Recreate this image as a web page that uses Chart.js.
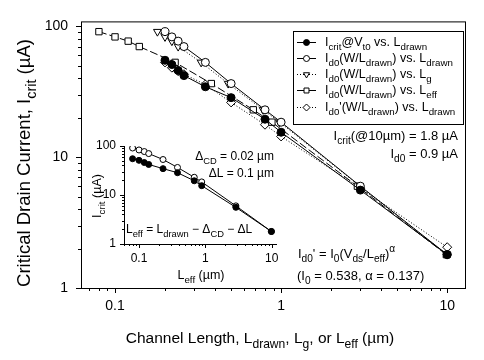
<!DOCTYPE html>
<html>
<head>
<meta charset="utf-8">
<script src="https://cdn.jsdelivr.net/npm/chart.js@4.4.1/dist/chart.umd.min.js"></script>
<style>
  body { margin: 0; background: #fff; }
  #wrap { position: relative; width: 484px; height: 360px; }
  canvas { position: absolute; left: 0; top: 0; }
</style>
</head>
<body>
<div id="wrap">
  <canvas id="main" width="484" height="360"></canvas>
  <canvas id="inset" width="484" height="360"></canvas>
</div>
<script>
// channel lengths (um)
const lDrawn = [0.2, 0.22, 0.24, 0.26, 0.35, 0.5, 0.8, 1.0, 3.0, 10];
const lG = [0.18, 0.20, 0.22, 0.24, 0.33, 0.48, 0.78, 0.98, 2.98, 9.98];
const lEff = [0.08, 0.10, 0.12, 0.14, 0.23, 0.38, 0.68, 0.88, 2.88, 9.88];

// currents (uA)
const iCrit = [55, 51, 46, 42, 34.5, 28.5, 19.5, 15.5, 5.6, 1.8];
const iD0W = [91, 83, 77, 70, 53, 36.5, 23, 18.5, 6.0, 1.8];
const iD0pW = [53, 48.3, 45.4, 43, 35.9, 26.2, 17.7, 14.4, 5.8, 2.05];

// ticks
const xTicks = [0.1, 1, 10];
const xTickLabels = ["0.1", "1", "10"];
const yTicks = [1, 10, 100];
const yTickLabels = ["1", "10", "100"];

const FONT = "'Liberation Sans', Arial, sans-serif";
Chart.defaults.font.family = FONT;
Chart.defaults.color = "#000";

const pts = (xs, ys) => xs.map((x, i) => ({ x: x, y: ys[i] }));

// texto con subindices: partes [texto, 'n' | 'b' (sub) | 'p' (sup)]
function richText(ctx, parts, x, y, size, align) {
  const small = size * 0.78;
  let w = 0;
  parts.forEach(([t, m]) => {
    ctx.font = (m === "n" ? size : small) + "px " + FONT;
    w += ctx.measureText(t).width;
  });
  let cx = align === "right" ? x - w : align === "center" ? x - w / 2 : x;
  ctx.textAlign = "left";
  ctx.textBaseline = "alphabetic";
  ctx.fillStyle = "#000";
  parts.forEach(([t, m]) => {
    ctx.font = (m === "n" ? size : small) + "px " + FONT;
    const dy = m === "b" ? size * 0.32 : m === "p" ? -size * 0.45 : 0;
    ctx.fillText(t, cx, y + dy);
    cx += ctx.measureText(t).width;
  });
}

function drawMinorTicks(ctx, scale, horizontal, major, minor) {
  ctx.strokeStyle = "#000";
  ctx.lineWidth = 1;
  ctx.beginPath();
  for (let k = -2; k <= 2; k++) {
    for (let m = 1; m <= 9; m++) {
      const v = m * Math.pow(10, k);
      if (v < scale.min || v > scale.max) continue;
      const p = Math.round(scale.getPixelForValue(v)) + 0.5;
      const len = m === 1 ? major : minor;
      if (horizontal) {
        ctx.moveTo(p, scale.top);
        ctx.lineTo(p, scale.top + len);
      } else {
        ctx.moveTo(scale.right, p);
        ctx.lineTo(scale.right - len, p);
      }
    }
  }
  ctx.stroke();
}

const mainSets = [
  { label: "Icrit@Vt0 vs. Ldrawn", data: pts(lDrawn, iCrit), pointStyle: "circle", pointRadius: 4,
    backgroundColor: "#000", borderDash: [] },
  { label: "Id0(W/Ldrawn) vs. Ldrawn", data: pts(lDrawn, iD0W), pointStyle: "circle", pointRadius: 4,
    backgroundColor: "#fff", borderDash: [] },
  { label: "Id0(W/Ldrawn) vs. Lg", data: pts(lG, iD0W), pointStyle: "triangle", pointRotation: 180, pointRadius: 4.5,
    backgroundColor: "#fff", borderDash: [1, 2] },
  { label: "Id0(W/Ldrawn) vs. Leff", data: pts(lEff, iD0W), pointStyle: "rect", pointRadius: 4.5,
    backgroundColor: "#fff", borderDash: [8, 3] },
  { label: "Id0'(W/Ldrawn) vs. Ldrawn", data: pts(lDrawn, iD0pW), pointStyle: "rectRot", pointRadius: 4.5,
    backgroundColor: "#fff", borderDash: [1, 2] },
].map((d) => Object.assign({
  showLine: true, borderColor: "#000", borderWidth: 1, pointBorderColor: "#000",
  pointBackgroundColor: d.backgroundColor, pointBorderWidth: 1,
}, d));

const legendLabels = [
  [["I", "n"], ["crit", "b"], ["@V", "n"], ["t0", "b"], [" vs. L", "n"], ["drawn", "b"]],
  [["I", "n"], ["d0", "b"], ["(W/L", "n"], ["drawn", "b"], [") vs. L", "n"], ["drawn", "b"]],
  [["I", "n"], ["d0", "b"], ["(W/L", "n"], ["drawn", "b"], [") vs. L", "n"], ["g", "b"]],
  [["I", "n"], ["d0", "b"], ["(W/L", "n"], ["drawn", "b"], [") vs. L", "n"], ["eff", "b"]],
  [["I", "n"], ["d0", "b"], ["'(W/L", "n"], ["drawn", "b"], [") vs. L", "n"], ["drawn", "b"]],
];

const mainDeco = {
  id: "mainDeco",
  afterDraw(chart) {
    const ctx = chart.ctx;
    const a = chart.chartArea;
    ctx.save();
    ctx.strokeStyle = "#000";
    ctx.lineWidth = 1;
    ctx.strokeRect(a.left + 0.5, a.top + 0.5, a.right - a.left, a.bottom - a.top);
    drawMinorTicks(ctx, chart.scales.x, true, 5, 3);
    drawMinorTicks(ctx, chart.scales.y, false, 5, 3);

    // titulos de ejes
    richText(ctx, [["Channel Length, L", "n"], ["drawn", "b"], [", L", "n"], ["g", "b"], [", or L", "n"], ["eff", "b"], [" (\u00b5m)", "n"]],
      260, 343, 15.5, "center");
    ctx.save();
    ctx.translate(30, 163);
    ctx.rotate(-Math.PI / 2);
    richText(ctx, [["Critical Drain Current, I", "n"], ["crit", "b"], [" (\u00b5A)", "n"]], 0, 0, 18.5, "center");
    ctx.restore();

    // anotaciones
    richText(ctx, [["I", "n"], ["crit", "b"], ["(@10\u00b5m) = 1.8 \u00b5A", "n"]], 458, 140, 13, "right");
    richText(ctx, [["I", "n"], ["d0", "b"], [" = 0.9 \u00b5A", "n"]], 458, 158, 13, "right");
    richText(ctx, [["I", "n"], ["d0", "b"], ["' = I", "n"], ["0", "b"], ["(V", "n"], ["ds", "b"], ["/L", "n"], ["eff", "b"], [")", "n"], ["\u03b1", "p"]], 298, 258, 13, "left");
    richText(ctx, [["(I", "n"], ["0", "b"], [" = 0.538, \u03b1 = 0.137)", "n"]], 297, 280, 13, "left");

    // leyenda
    ctx.strokeStyle = "#000";
    ctx.lineWidth = 1;
    ctx.strokeRect(293.5, 31.5, 170, 93);
    const rows = [46, 62, 78, 94, 111];
    chart.data.datasets.forEach((ds, i) => {
      const y = rows[i] - 4;
      ctx.save();
      ctx.setLineDash(ds.borderDash);
      ctx.beginPath();
      ctx.moveTo(297, y + 0.5);
      ctx.lineTo(316, y + 0.5);
      ctx.stroke();
      ctx.restore();
      ctx.fillStyle = ds.pointBackgroundColor;
      ctx.strokeStyle = "#000";
      Chart.helpers.drawPoint(ctx, { pointStyle: ds.pointStyle, radius: ds.pointRadius - 1,
        rotation: ds.pointRotation || 0, borderWidth: 1 }, 306.5, y + 0.5);
      richText(ctx, legendLabels[i], 325, rows[i], 12.5, "left");
    });
    ctx.restore();
  },
};

new Chart(document.getElementById("main"), {
  type: "scatter",
  data: { datasets: mainSets },
  options: {
    responsive: false,
    animation: false,
    layout: { padding: { top: 19, right: 19, left: 0, bottom: 0 } },
    plugins: { legend: { display: false }, tooltip: { enabled: false } },
    scales: {
      x: {
        type: "logarithmic", min: 0.0624, max: 12.8,
        afterBuildTicks: (s) => { s.ticks = xTicks.map((v) => ({ value: v })); },
        afterFit: (s) => { s.height = 72; },
        grid: { display: false, drawTicks: false },
        border: { display: false },
        ticks: { callback: (v, i) => xTickLabels[i], padding: 10, font: { size: 14 }, maxRotation: 0, autoSkip: false },
      },
      y: {
        type: "logarithmic", min: 1, max: 109,
        afterBuildTicks: (s) => { s.ticks = yTicks.map((v) => ({ value: v })); },
        afterFit: (s) => { s.width = 81; },
        grid: { display: false, drawTicks: false },
        border: { display: false },
        ticks: { callback: (v, i) => yTickLabels[i], padding: 13, font: { size: 14 }, autoSkip: false },
      },
    },
  },
  plugins: [mainDeco],
});

// ---- inset ----
const insetDeco = {
  id: "insetDeco",
  afterDraw(chart) {
    const ctx = chart.ctx;
    const a = chart.chartArea;
    ctx.save();
    ctx.strokeStyle = "#000";
    ctx.lineWidth = 1;
    ctx.beginPath();
    ctx.moveTo(a.left + 0.5, a.top);
    ctx.lineTo(a.left + 0.5, a.bottom + 0.5);
    ctx.lineTo(a.right, a.bottom + 0.5);
    ctx.stroke();
    drawMinorTicks(ctx, chart.scales.x, true, 4, 2);
    drawMinorTicks(ctx, chart.scales.y, false, 4, 2);

    richText(ctx, [["L", "n"], ["eff", "b"], [" (\u00b5m)", "n"]], 201, 279, 12.5, "center");
    ctx.save();
    ctx.translate(101, 196);
    ctx.rotate(-Math.PI / 2);
    richText(ctx, [["I", "n"], ["crit", "b"], [" (\u00b5A)", "n"]], 0, 0, 12.5, "center");
    ctx.restore();

    richText(ctx, [["\u0394", "n"], ["CD", "b"], [" = 0.02 \u00b5m", "n"]], 274, 160, 12, "right");
    richText(ctx, [["\u0394L = 0.1 \u00b5m", "n"]], 274, 177, 12, "right");
    richText(ctx, [["L", "n"], ["eff", "b"], [" = L", "n"], ["drawn", "b"], [" \u2212 \u0394", "n"], ["CD", "b"], [" \u2212 \u0394L", "n"]], 126, 233, 12, "left");
    ctx.restore();
  },
};

new Chart(document.getElementById("inset"), {
  type: "scatter",
  data: {
    datasets: [
      { data: pts(lEff, iCrit), pointStyle: "circle", pointRadius: 3, pointBackgroundColor: "#000" },
      { data: pts(lEff, iD0W), pointStyle: "circle", pointRadius: 3, pointBackgroundColor: "#fff" },
    ].map((d) => Object.assign({ showLine: true, borderColor: "#000", borderWidth: 1,
      pointBorderColor: "#000", pointBorderWidth: 1 }, d)),
  },
  options: {
    responsive: false,
    animation: false,
    layout: { padding: { top: 146, right: 207, left: 0, bottom: 0 } },
    plugins: { legend: { display: false }, tooltip: { enabled: false } },
    scales: {
      x: {
        type: "logarithmic", min: 0.0594, max: 12,
        afterBuildTicks: (s) => { s.ticks = xTicks.map((v) => ({ value: v })); },
        afterFit: (s) => { s.height = 116; },
        grid: { display: false, drawTicks: false },
        border: { display: false },
        ticks: { callback: (v, i) => xTickLabels[i], padding: 7, font: { size: 12 }, maxRotation: 0, autoSkip: false },
      },
      y: {
        type: "logarithmic", min: 1, max: 100,
        afterBuildTicks: (s) => { s.ticks = yTicks.map((v) => ({ value: v })); },
        afterFit: (s) => { s.width = 124; },
        grid: { display: false, drawTicks: false },
        border: { display: false },
        ticks: { callback: (v, i) => yTickLabels[i], padding: 8, font: { size: 12 }, autoSkip: false },
      },
    },
  },
  plugins: [insetDeco],
});
</script>
</body>
</html>
